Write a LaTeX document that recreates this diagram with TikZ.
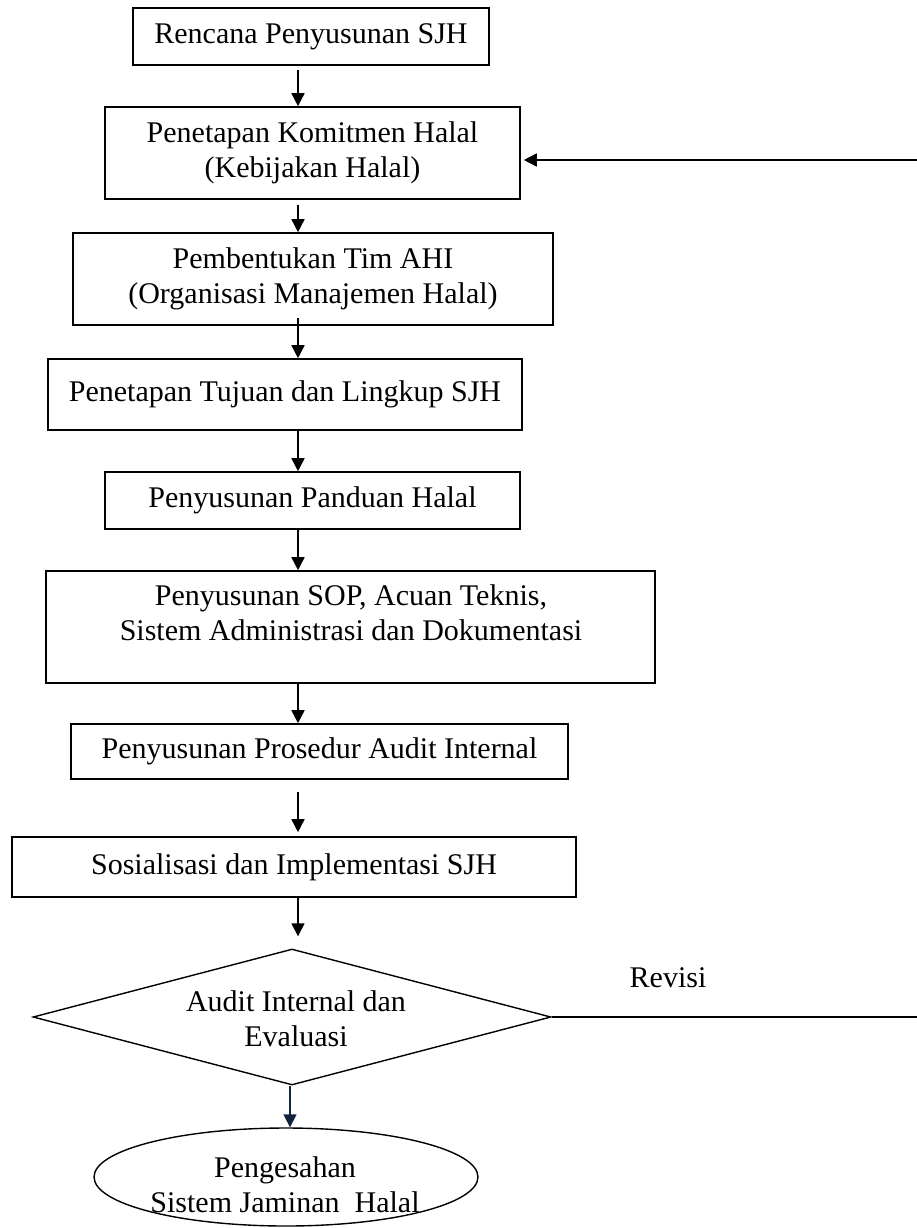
\documentclass[tikz,border=0pt]{standalone}
\usepackage{fontspec}
\setmainfont{Liberation Serif}
\usetikzlibrary{arrows.meta,shapes.geometric}
\definecolor{navy}{HTML}{12233D}
\begin{document}
\begin{tikzpicture}[x=1pt,y=-1pt,
  every node/.style={font=\fontsize{30}{35}\selectfont, align=center},
  stepbox/.style={draw, line width=1.6pt, inner sep=0pt},
  txt/.style={inner sep=0pt},
  arr/.style={line width=1.6pt, -{Triangle[length=13pt,width=13pt]}},
  ln/.style={line width=1.6pt}]
\useasboundingbox (0,0) rectangle (917,1228);
\coordinate (axis) at (298,0);
\coordinate (axtwo) at (290,0);
\coordinate (rt) at (917,160);
\coordinate (rv) at (917,1017);

\node[stepbox, minimum width=356pt, minimum height=57pt] (b1) at (311,36.5) {Rencana Penyusunan SJH};
\node[stepbox, minimum width=415pt, minimum height=92pt] (b2) at (312.5,153) {Penetapan Komitmen Halal\\(Kebijakan Halal)};
\node[stepbox, minimum width=480pt, minimum height=92pt] (b3) at (313,279) {Pembentukan Tim AHI\\(Organisasi Manajemen Halal)};
\node[stepbox, minimum width=473.5pt, minimum height=71pt] (b4) at (285,394.5) {Penetapan Tujuan dan Lingkup SJH};
\node[stepbox, minimum width=415pt, minimum height=57pt] (b5) at (312.5,500.5) {Penyusunan Panduan Halal};
\node[stepbox, minimum width=609pt, minimum height=112pt] (b6) at (350.5,627) {};
\node[txt] (b6t) at (351,613) {Penyusunan SOP, Acuan Teknis,\\Sistem Administrasi dan Dokumentasi};
\node[stepbox, minimum width=497pt, minimum height=55pt] (b7) at (319.5,751.5) {Penyusunan Prosedur Audit Internal};
\node[stepbox, minimum width=564pt, minimum height=60pt] (b8) at (294,867) {Sosialisasi dan Implementasi SJH};
\node[draw, line width=1.4pt, diamond, shape aspect=3.8, inner sep=0pt, minimum width=518pt, minimum height=136pt] (d) at (292,1017) {};
\node[txt] (dt) at (296,1019) {Audit Internal dan\\Evaluasi};
\node[draw, line width=1.4pt, ellipse, inner sep=0pt, minimum width=384pt, minimum height=98pt] (e) at (286,1177) {};
\node[txt] (et) at (285,1185) {Pengesahan\\Sistem Jaminan~ Halal};
\node[txt] (rev) at (668,978) {Revisi};

\draw[arr] ([yshift=-4pt]b1.south -| axis) -- (b2.north -| axis);
\draw[arr] ([yshift=-5pt]b2.south -| axis) -- (b3.north -| axis);
\draw[arr] ([yshift=8pt]b3.south -| axis) -- (b4.north -| axis);
\draw[arr] (b4.south -| axis) -- (b5.north -| axis);
\draw[arr] (b5.south -| axis) -- (b6.north -| axis);
\draw[arr] ([yshift=2pt]b6.south -| axis) -- (b7.north -| axis);
\draw[arr] ([yshift=-12pt]b7.south -| axis) -- ([yshift=4pt]b8.north -| axis);
\draw[arr] (b8.south -| axis) -- ([yshift=12pt]d.north -| axis);
\draw[arr, navy] (d.south -| axtwo) -- (e.north -| axtwo);
\draw[ln] (d.east) -- (rv);
\draw[arr] (rt) -- ([xshift=3pt]b2.east |- rt);
\end{tikzpicture}
\end{document}
